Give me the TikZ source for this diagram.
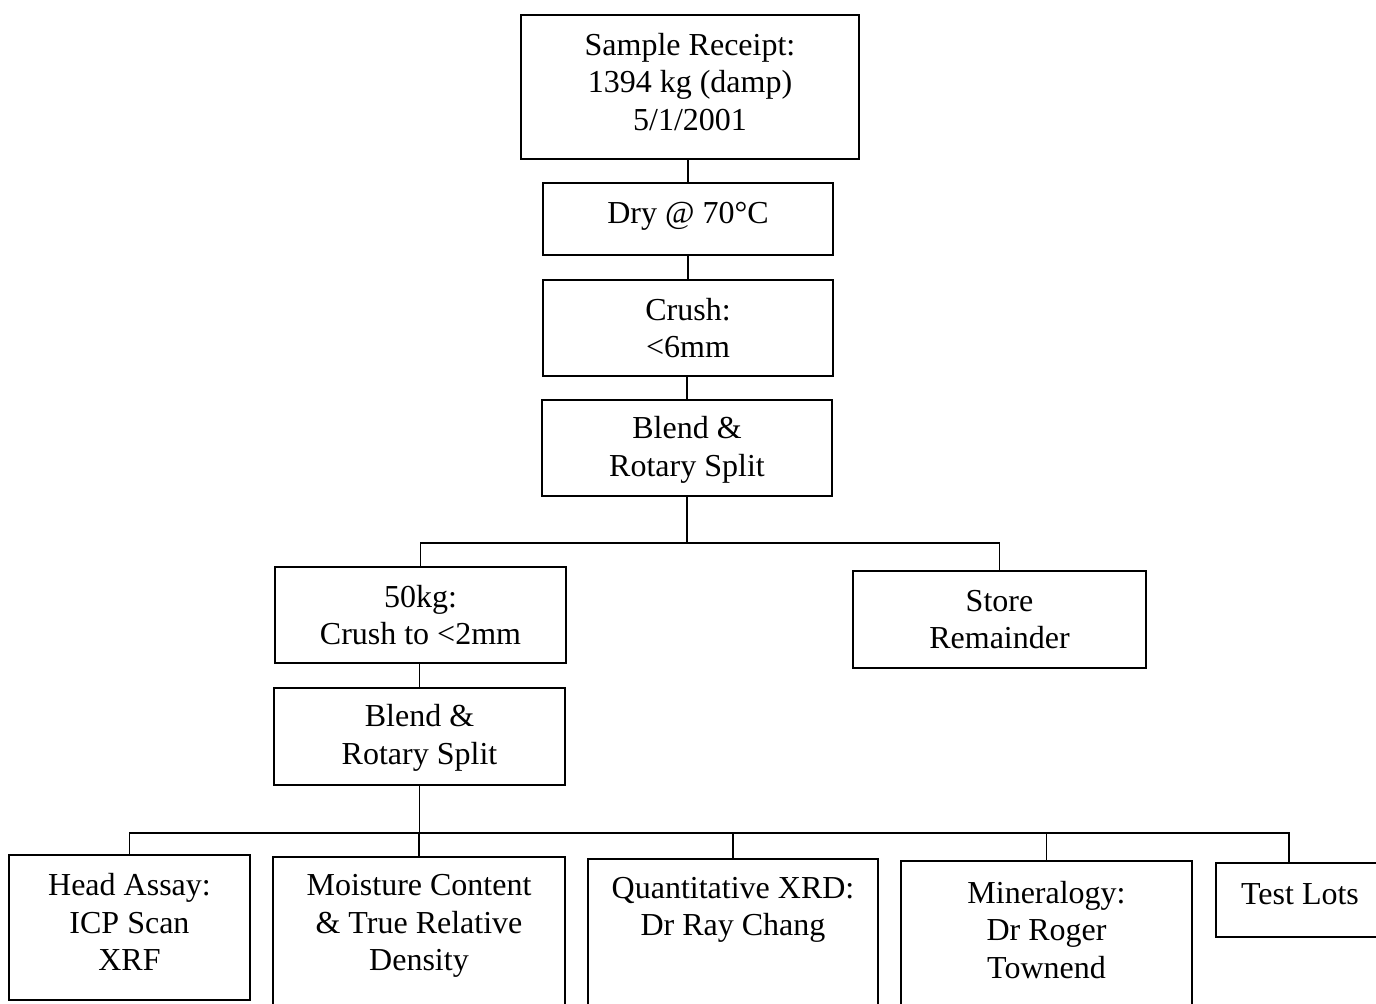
\documentclass[tikz,border=0pt]{standalone}
\usepackage{fontspec}
\setmainfont{Liberation Serif}
\begin{document}
\begin{tikzpicture}[x=0.5pt,y=-0.5pt,
  box/.style={draw, line width=0.8pt, rectangle, inner sep=0pt, align=center,
    font=\fontsize{16}{18.75}\selectfont},
  lbl/.style={inner sep=0pt, align=center, font=\fontsize{16}{18.75}\selectfont},
  conn/.style={line width=0.8pt}]
\useasboundingbox (0,0) rectangle (1376,1003);
\clip (0,0) rectangle (1376,1003);
\fill[white] (0,0) rectangle (1376,1003);
% main column
\node[box, minimum width=169pt, minimum height=72pt] (b1) at (690,87) {};
\node[lbl] (t1) at (690,82) {Sample Receipt:\\1394 kg (damp)\\5/1/2001};
\node[box, minimum width=145pt, minimum height=36pt] (b2) at (688,219) {};
\node[lbl] (t2) at (688,216) {Dry @ 70°C};
\node[box, minimum width=145pt, minimum height=48pt] (b3) at (688,328) {Crush:\\<6mm};
\node[box, minimum width=145pt, minimum height=48pt] (b4) at (687,448) {};
\node[lbl] (t4) at (687,450) {Blend \&\\Rotary Split};
\node[box, minimum width=145.5pt, minimum height=48pt] (b5) at (420.5,615) {50kg:\\Crush to <2mm};
\node[box, minimum width=146.5pt, minimum height=48.5pt] (b6) at (999.5,619.5) {Store\\Remainder};
\node[box, minimum width=145.5pt, minimum height=48.5pt] (b7) at (419.5,736.5) {};
\node[lbl] (t7) at (419.5,738) {Blend \&\\Rotary Split};
% bottom row boxes (cut by page edge)
\node[box, minimum width=120.5pt, minimum height=72.5pt] (b8) at (129.5,927.5) {};
\node[box, minimum width=146pt, minimum height=80pt] (b9) at (419,937) {};
\node[box, minimum width=145pt, minimum height=80pt] (b10) at (733,939) {};
\node[box, minimum width=145.5pt, minimum height=80pt] (b11) at (1046.5,941) {};
\node[box, minimum width=82pt, minimum height=37pt] (b12) at (1298,900) {};
\node[lbl] (t8) at (129.5,922) {Head Assay:\\ICP Scan\\XRF};
\node[lbl] (t9) at (419,926) {Moisture Content\\\& True Relative\\Density};
\node[lbl] (t10) at (733,910) {Quantitative XRD:\\Dr Ray Chang};
\node[lbl] (t11) at (1046.5,930) {Mineralogy:\\Dr Roger\\Townend};
\node[lbl] (t12) at (1300,894) {Test Lots};
% connectors
\draw[conn] (b2.north) -- (b2.north |- b1.south);
\draw[conn] (b3.north) -- (b3.north |- b2.south);
\draw[conn] (b4.north) -- (b4.north |- b3.south);
\coordinate (j1) at (687,543);
\coordinate (j2) at (419.5,833);
\draw[conn] (b4.south) -- (j1);
\draw[conn] (b5.north) -- (b5.north |- j1) -- (b6.north |- j1) -- (b6.north);
\draw[conn] (b7.north) -- (b7.north |- b5.south);
\draw[conn] (b7.south) -- (j2);
\coordinate (d12) at (1289,833);
\draw[conn] (b8.north) -- (b8.north |- j2) -- (d12) -- (d12 |- b12.north);
\draw[conn] (b10.north) -- (b10.north |- j2);
\draw[conn] (b11.north) -- (b11.north |- j2);
\draw[conn] (b9.north) -- (b9.north |- j2);
\end{tikzpicture}
\end{document}
